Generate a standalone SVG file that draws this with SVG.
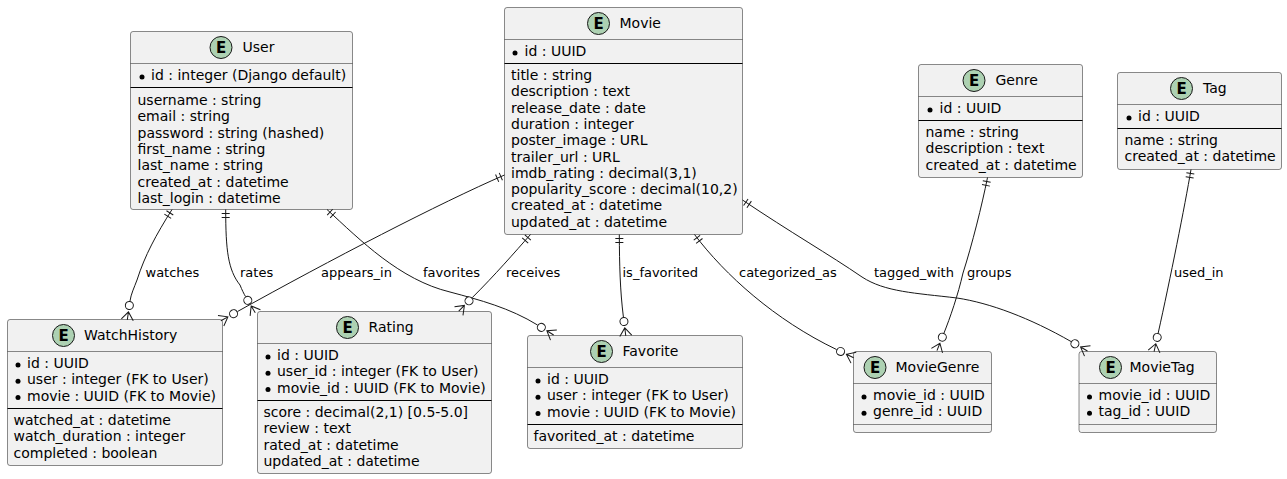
<svg xmlns="http://www.w3.org/2000/svg" width="1287" height="479" viewBox="0 0 1287 479">
<style>
text{font-family:"DejaVu Sans",sans-serif;font-size:14px;fill:#000}
.lbl{font-size:13px}
.e{font-weight:bold;font-size:15px;text-anchor:middle}
.box{fill:#F1F1F1;stroke:#181818;stroke-width:.5}
.hd{stroke:#181818;stroke-width:.5;fill:none}
.sep{stroke:#000;stroke-width:1;fill:none}
.ic{fill:#ADD1B2;stroke:#181818;stroke-width:1}
.b{fill:#000}
.c{fill:none;stroke:#181818;stroke-width:1;marker-start:url(#one);marker-end:url(#many)}
</style>
<defs>
<marker id="one" markerUnits="userSpaceOnUse" markerWidth="24" markerHeight="24" refX="0" refY="0" orient="auto" overflow="visible">
<path d="M4 -4V4M8 -4V4" fill="none" stroke="#181818" stroke-width="1"/>
</marker>
<marker id="many" markerUnits="userSpaceOnUse" markerWidth="40" markerHeight="40" refX="0" refY="0" orient="auto" overflow="visible">
<circle cx="4.5" cy="0" r="4" fill="#fff" stroke="#181818" stroke-width="1"/>
<path d="M19 -6L11 0L19 6M11 0H19" fill="none" stroke="#181818" stroke-width="1"/>
</marker>
</defs>
<g id="User">
<rect class="box" x="130.5" y="31.5" width="222" height="178" rx="2.5"/>
<path class="hd" d="M130.5 63.5H352.5"/><path class="sep" d="M130.5 87.5H352.5"/>
<circle class="ic" cx="221" cy="47.5" r="11"/><text class="e" x="221" y="53">E</text>
<text x="242.5" y="52">User</text>
<circle class="b" cx="142" cy="77" r="2.5"/><text x="151" y="80">id : integer (Django default)</text>
<text x="137.5" y="105">username : string</text>
<text x="137.5" y="121.3">email : string</text>
<text x="137.5" y="137.6">password : string (hashed)</text>
<text x="137.5" y="153.9">first_name : string</text>
<text x="137.5" y="170.2">last_name : string</text>
<text x="137.5" y="186.5">created_at : datetime</text>
<text x="137.5" y="202.8">last_login : datetime</text>
</g>
<g id="Movie">
<rect class="box" x="504.5" y="7.5" width="238" height="227" rx="2.5"/>
<path class="hd" d="M504.5 39.5H742.5"/><path class="sep" d="M504.5 63.5H742.5"/>
<circle class="ic" cx="598.5" cy="23.5" r="11"/><text class="e" x="598.5" y="29">E</text>
<text x="619.5" y="28">Movie</text>
<circle class="b" cx="515" cy="53" r="2.5"/><text x="524.5" y="56">id : UUID</text>
<text x="511" y="80">title : string</text>
<text x="511" y="96.3">description : text</text>
<text x="511" y="112.6">release_date : date</text>
<text x="511" y="128.9">duration : integer</text>
<text x="511" y="145.2">poster_image : URL</text>
<text x="511" y="161.5">trailer_url : URL</text>
<text x="511" y="177.8">imdb_rating : decimal(3,1)</text>
<text x="511" y="194.1">popularity_score : decimal(10,2)</text>
<text x="511" y="210.4">created_at : datetime</text>
<text x="511" y="226.7">updated_at : datetime</text>
</g>
<g id="Genre">
<rect class="box" x="918.5" y="64.5" width="164" height="113" rx="2.5"/>
<path class="hd" d="M918.5 96.5H1082.5"/><path class="sep" d="M918.5 120.5H1082.5"/>
<circle class="ic" cx="974" cy="80.5" r="11"/><text class="e" x="974" y="86">E</text>
<text x="995.5" y="85">Genre</text>
<circle class="b" cx="930" cy="110" r="2.5"/><text x="939.5" y="113">id : UUID</text>
<text x="925.5" y="137">name : string</text>
<text x="925.5" y="153.3">description : text</text>
<text x="925.5" y="169.6">created_at : datetime</text>
</g>
<g id="Tag">
<rect class="box" x="1117.5" y="72.5" width="164" height="97" rx="2.5"/>
<path class="hd" d="M1117.5 104.5H1281.5"/><path class="sep" d="M1117.5 128.5H1281.5"/>
<circle class="ic" cx="1181.5" cy="88.5" r="11"/><text class="e" x="1181.5" y="94">E</text>
<text x="1203" y="93">Tag</text>
<circle class="b" cx="1129" cy="118" r="2.5"/><text x="1138" y="121">id : UUID</text>
<text x="1124.5" y="145">name : string</text>
<text x="1124.5" y="161.3">created_at : datetime</text>
</g>
<g id="WatchHistory">
<rect class="box" x="7.5" y="319.5" width="215" height="146" rx="2.5"/>
<path class="hd" d="M7.5 351.5H222.5"/><path class="sep" d="M7.5 408.5H222.5"/>
<circle class="ic" cx="63.5" cy="335.5" r="11"/><text class="e" x="63.5" y="341">E</text>
<text x="84" y="340">WatchHistory</text>
<circle class="b" cx="18" cy="365" r="2.5"/><text x="27" y="368">id : UUID</text>
<circle class="b" cx="18" cy="381.3" r="2.5"/><text x="27" y="384.3">user : integer (FK to User)</text>
<circle class="b" cx="18" cy="397.6" r="2.5"/><text x="27" y="400.6">movie : UUID (FK to Movie)</text>
<text x="13.5" y="425">watched_at : datetime</text>
<text x="13.5" y="441.3">watch_duration : integer</text>
<text x="13.5" y="457.6">completed : boolean</text>
</g>
<g id="Rating">
<rect class="box" x="257.5" y="311.5" width="234" height="162" rx="2.5"/>
<path class="hd" d="M257.5 343.5H491.5"/><path class="sep" d="M257.5 400.5H491.5"/>
<circle class="ic" cx="347.5" cy="327.5" r="11"/><text class="e" x="347.5" y="333">E</text>
<text x="368.5" y="332">Rating</text>
<circle class="b" cx="268" cy="357" r="2.5"/><text x="277" y="360">id : UUID</text>
<circle class="b" cx="268" cy="373.3" r="2.5"/><text x="277" y="376.3">user_id : integer (FK to User)</text>
<circle class="b" cx="268" cy="389.6" r="2.5"/><text x="277" y="392.6">movie_id : UUID (FK to Movie)</text>
<text x="263.5" y="417">score : decimal(2,1) [0.5-5.0]</text>
<text x="263.5" y="433.3">review : text</text>
<text x="263.5" y="449.6">rated_at : datetime</text>
<text x="263.5" y="465.9">updated_at : datetime</text>
</g>
<g id="Favorite">
<rect class="box" x="527.5" y="335.5" width="215" height="113" rx="2.5"/>
<path class="hd" d="M527.5 367.5H742.5"/><path class="sep" d="M527.5 424.5H742.5"/>
<circle class="ic" cx="601.5" cy="351.5" r="11"/><text class="e" x="601.5" y="357">E</text>
<text x="622.5" y="356">Favorite</text>
<circle class="b" cx="538" cy="381" r="2.5"/><text x="547" y="384">id : UUID</text>
<circle class="b" cx="538" cy="397.3" r="2.5"/><text x="547" y="400.3">user : integer (FK to User)</text>
<circle class="b" cx="538" cy="413.6" r="2.5"/><text x="547" y="416.6">movie : UUID (FK to Movie)</text>
<text x="533.5" y="441">favorited_at : datetime</text>
</g>
<g id="MovieGenre">
<rect class="box" x="853.5" y="351.5" width="138" height="81" rx="2.5"/>
<path class="hd" d="M853.5 383.5H991.5M853.5 424.5H991.5"/>
<circle class="ic" cx="875" cy="367.5" r="11"/><text class="e" x="875" y="373">E</text>
<text x="895.5" y="372">MovieGenre</text>
<circle class="b" cx="864" cy="397" r="2.5"/><text x="873" y="400">movie_id : UUID</text>
<circle class="b" cx="864" cy="413.3" r="2.5"/><text x="873" y="416.3">genre_id : UUID</text>
</g>
<g id="MovieTag">
<rect class="box" x="1079" y="351.5" width="137.5" height="81" rx="2.5"/>
<path class="hd" d="M1079 383.5H1216.5M1079 424.5H1216.5"/>
<circle class="ic" cx="1110.5" cy="367.5" r="11"/><text class="e" x="1110.5" y="373">E</text>
<text x="1129.5" y="372">MovieTag</text>
<circle class="b" cx="1089.5" cy="397" r="2.5"/><text x="1098.5" y="400">movie_id : UUID</text>
<circle class="b" cx="1089.5" cy="413.3" r="2.5"/><text x="1098.5" y="416.3">tag_id : UUID</text>
</g>
<g id="connectors">
<path class="c" d="M172 209.5C156 235 145 255 137 280C134 288 131 294 130 301"/>
<path class="c" d="M225.7 209.5C225.7 250 228 270 240 285C242 290 244 294 245.5 296.5"/>
<path class="c" d="M504.5 175C440 203 330 260 237.5 311.5"/>
<path class="c" d="M327 209.5C360 240 400 280 450 292C480 300 510 308 537.5 325"/>
<path class="c" d="M530.5 234.5C515 252 495 275 472.2 297.7"/>
<path class="c" d="M619.3 234.5C619.5 265 620 290 623.4 317"/>
<path class="c" d="M694.5 234.5C725 275 775 320 836.5 349.5"/>
<path class="c" d="M742.5 200C790 232 830 255 862 277C885 292 915 293 957 298C990 303 1030 318 1071 341.5"/>
<path class="c" d="M987.5 177.5C982 205 972 245 963 273C958 295 950 318 944 333"/>
<path class="c" d="M1191 169.5C1185 205 1170 280 1158.2 333"/>
<text class="lbl" x="145.5" y="277">watches</text>
<text class="lbl" x="240" y="277">rates</text>
<text class="lbl" x="321" y="277">appears_in</text>
<text class="lbl" x="423" y="277">favorites</text>
<text class="lbl" x="506" y="277">receives</text>
<text class="lbl" x="622.5" y="277">is_favorited</text>
<text class="lbl" x="739" y="277">categorized_as</text>
<text class="lbl" x="874" y="277">tagged_with</text>
<text class="lbl" x="967" y="277">groups</text>
<text class="lbl" x="1174" y="277">used_in</text>
</g>
</svg>
